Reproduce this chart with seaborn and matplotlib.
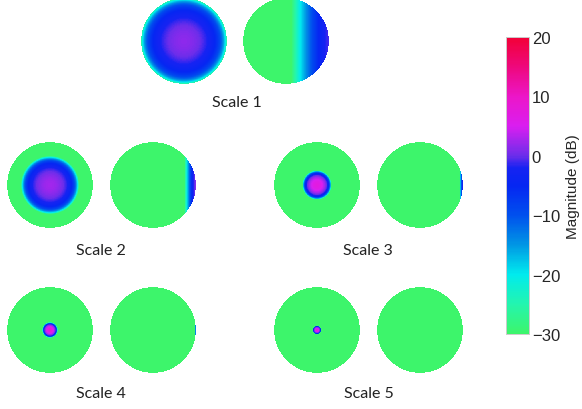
import numpy as np
import matplotlib
matplotlib.use("Agg")
import matplotlib.pyplot as plt
import seaborn as sns
from matplotlib.colors import LinearSegmentedColormap

# Filter magnitude (dB) per scale: a radial low-pass lobe (left disc)
# and a band hugging the right edge of the spectrum (right disc).
scales = ["Scale 1", "Scale 2", "Scale 3", "Scale 4", "Scale 5"]
lowpass_peak_db = [1.5, 2.5, 7.0, 8.0, 7.0]
lowpass_drop_db = [12.0, 12.0, 16.0, 16.0, 14.0]   # gentle fall before the edge
lowpass_width = [1.02, 0.68, 0.34, 0.18, 0.10]
band_peak_db = [-1.0, 1.0, -2.0, -10.0, -30.0]
band_width = [0.88, 0.27, 0.08, 0.02, 0.001]

db_min, db_max = -30, 20
cbar_ticks = [-30, -20, -10, 0, 10, 20]

# colour scale: green -> cyan -> blue -> violet -> magenta -> red
cmap_levels = [-30, -25, -20, -15, -10, -5, -2, 0, 2, 5, 10, 15, 20]
cmap_colors = [(61, 245, 107), (35, 245, 175), (0, 235, 238), (0, 150, 228),
               (0, 80, 238), (5, 38, 242), (22, 35, 242), (108, 45, 234),
               (150, 40, 236), (218, 30, 240), (236, 22, 200), (238, 8, 125),
               (242, 0, 55)]
cmap = LinearSegmentedColormap.from_list(
    "mag",
    [((v - db_min) / (db_max - db_min), tuple(c / 255 for c in rgb))
     for v, rgb in zip(cmap_levels, cmap_colors)])

sns.set_theme(style="white")
plt.rcParams["font.family"] = ["Lato", "DejaVu Sans"]

W, H = 582, 410
fig = plt.figure(figsize=(W / 100, H / 100), dpi=100)

# disc centres (pixels) for each scale: (left disc, right disc)
centres = [((184, 42), (286, 42)),
           ((50, 186), (153, 186)),
           ((317, 186), (420, 186)),
           ((50, 331), (153, 331)),
           ((317, 331), (420, 331))]
label_pos = [(237, 103), (101, 251), (368, 251), (101, 394), (369, 394)]
R = 43

n = 301
g = np.linspace(-1, 1, n)
X, Y = np.meshgrid(g, g)
outside = X ** 2 + Y ** 2 > 1.0


def lowpass(dist, peak, drop, width):
    u = dist / width
    vals = peak - drop * u ** 2 - (peak - drop - db_min) * u ** 10
    return np.clip(vals, db_min, db_max)


def band(dist, peak, width):
    u = dist / width
    vals = peak - (peak - db_min) * u ** 1.5
    return np.clip(vals, db_min, db_max)


cax = fig.add_axes([506 / W, (H - 335) / H, 23 / W, 297 / H])
first = True
for i, name in enumerate(scales):
    fields = [lowpass(np.hypot(X, Y), lowpass_peak_db[i], lowpass_drop_db[i],
                      lowpass_width[i]),
              band(1.0 - X, band_peak_db[i], band_width[i])]
    for (cx, cy), field in zip(centres[i], fields):
        ax = fig.add_axes([(cx - R) / W, (H - cy - R) / H, 2 * R / W, 2 * R / H])
        sns.heatmap(field, mask=outside, cmap=cmap, vmin=db_min, vmax=db_max,
                    xticklabels=False, yticklabels=False, ax=ax,
                    cbar=first, cbar_ax=cax if first else None,
                    rasterized=True)
        first = False
        ax.set_aspect("equal")
        ax.axis("off")
    lx, ly = label_pos[i]
    fig.text(lx / W, 1 - ly / H, name, ha="center", va="center",
             fontsize=11.5, color="#222222")

cax.set_yticks(cbar_ticks)
cax.set_yticklabels([str(t).replace("-", "\u2212") for t in cbar_ticks],
                    fontsize=12, family=["Liberation Sans", "DejaVu Sans"])
cax.tick_params(axis="y", which="major", length=3, width=0.6, color="#999999",
                pad=2, left=True, right=True, direction="in")
cax.set_ylabel("Magnitude (dB)", fontsize=11, labelpad=4,
               family=["Liberation Sans", "DejaVu Sans"])
cax.yaxis.set_label_position("right")
for s in cax.spines.values():
    s.set_visible(True)
    s.set_edgecolor("#cccccc")
    s.set_linewidth(0.6)

fig.savefig("out.png", dpi=100, facecolor="white")
